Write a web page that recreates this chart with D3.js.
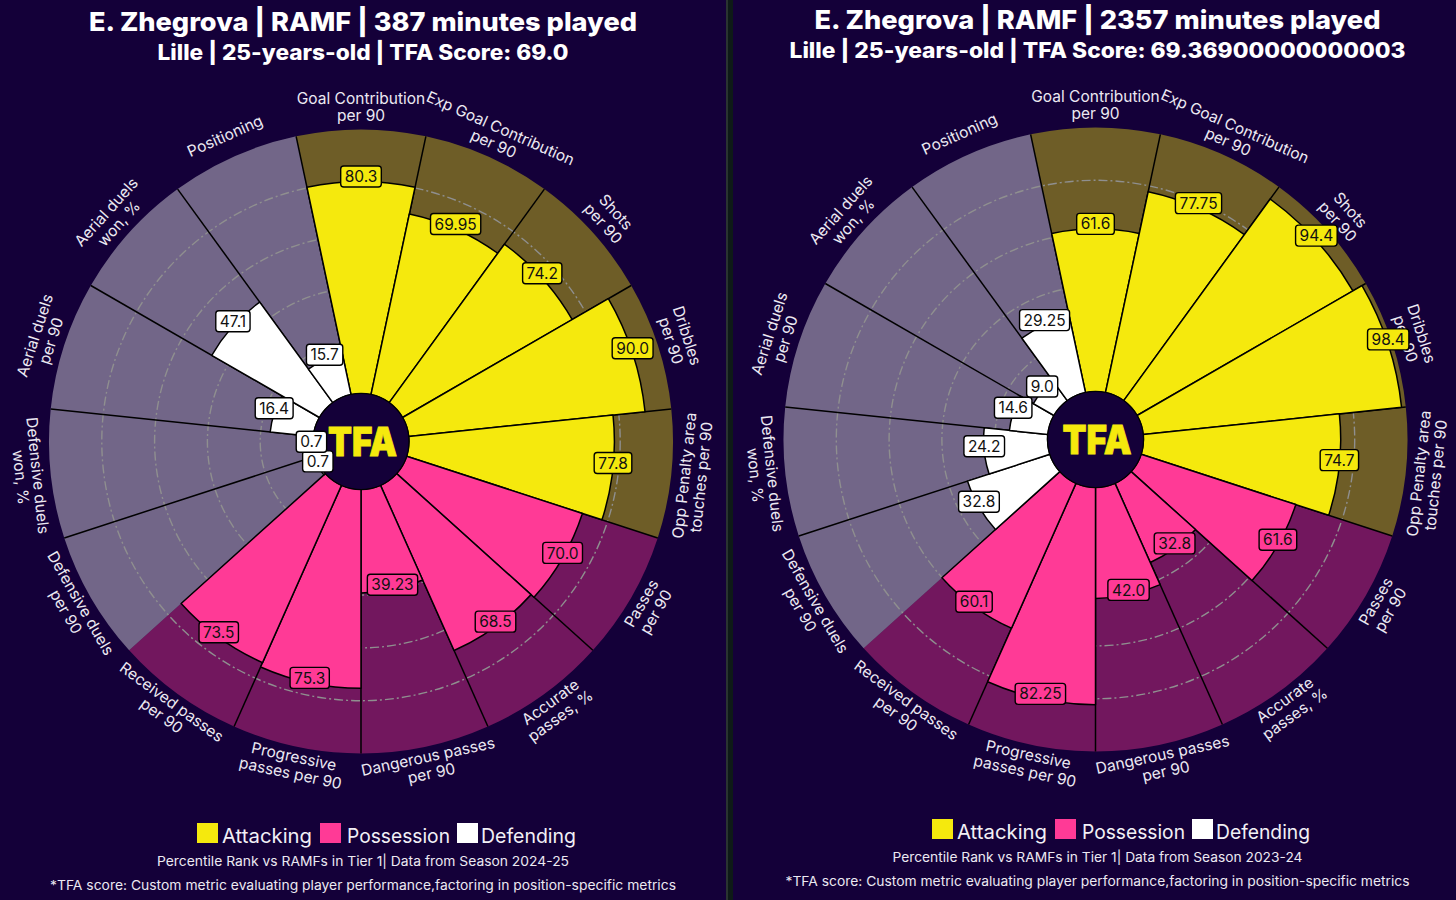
<!DOCTYPE html>
<html><head><meta charset="utf-8">
<script src="https://cdn.jsdelivr.net/npm/d3@7"></script>
<style>html,body{margin:0;padding:0;background:#140039}svg{display:block}text{font-family:Inter,"Open Sans",sans-serif}</style>
</head><body><svg id="c" width="1456" height="900"></svg>
<script>
const categories = ["Goal Contribution\nper 90","Exp Goal Contribution\nper 90","Shots\nper 90","Dribbles\nper 90","Opp Penalty area\ntouches per 90","Passes\nper 90","Accurate\npasses, %","Dangerous passes\nper 90","Progressive\npasses per 90","Received passes\nper 90","Defensive duels\nper 90","Defensive duels\nwon, %","Aerial duels\nper 90","Aerial duels\nwon, %","Positioning"];
const groups = ["Attacking","Attacking","Attacking","Attacking","Attacking","Possession","Possession","Possession","Possession","Possession","Defending","Defending","Defending","Defending","Defending"];
const values2425 = [80.3,69.95,74.2,90.0,77.8,70.0,68.5,39.23,75.3,73.5,0.7,0.7,16.4,47.1,15.7];
const values2324 = [61.6,77.75,94.4,98.4,74.7,61.6,32.8,42.0,82.25,60.1,32.8,24.2,14.6,9.0,29.25];
const labels2425 = ["80.3","69.95","74.2","90.0","77.8","70.0","68.5","39.23","75.3","73.5","0.7","0.7","16.4","47.1","15.7"];
const labels2324 = ["61.6","77.75","94.4","98.4","74.7","61.6","32.8","42.0","82.25","60.1","32.8","24.2","14.6","9.0","29.25"];
const ringTicks = [20,40,60,80];
const legendNames = ["Attacking","Possession","Defending"];
const groupColor = {Attacking:"#f5e90d",Possession:"#ff3a96",Defending:"#ffffff"};
const BG = "#140039";

const svg = d3.select("#c");
svg.append("rect").attr("width",1456).attr("height",900).attr("fill",BG);
svg.append("rect").attr("x",726).attr("width",7).attr("height",900).attr("fill","#0e1a17");
svg.append("rect").attr("x",726).attr("width",2).attr("height",900).attr("fill","#2a3331");

const deg = Math.PI/180;
const angle = d3.scaleBand().domain(categories).range([-12*deg,348*deg]);
const radius = d3.scaleLinear().domain([0,100]).range([48,312]);

function fitText(g,str,x,y,size,weight,len,fill){
  return g.append("text").attr("x",x).attr("y",y).attr("text-anchor","middle")
    .attr("font-size",size).attr("font-weight",weight).attr("fill",fill)
    .attr("textLength",len).attr("lengthAdjust","spacingAndGlyphs").text(str);
}

function panel(cfg){
  const root = svg.append("g");
  const g = root.append("g").attr("transform",`translate(${cfg.cx},${cfg.cy})`);
  const rows = categories.map((c,i)=>({c,i,group:groups[i],v:cfg.values[i],label:cfg.labels[i],
    a0:angle(c),a1:angle(c)+angle.bandwidth(),mid:angle(c)+angle.bandwidth()/2}));
  const arc = d3.arc();
  g.selectAll("path.bg").data(rows).join("path").attr("class","bg")
    .attr("d",d=>arc({innerRadius:radius(0),outerRadius:radius(100),startAngle:d.a0,endAngle:d.a1}))
    .attr("fill",d=>groupColor[d.group]).attr("fill-opacity",0.4);
  g.selectAll("circle.ring").data(ringTicks).join("circle").attr("class","ring")
    .attr("r",d=>radius(d)).attr("fill","none").attr("stroke","#8f8f8f")
    .attr("stroke-width",1.4).attr("stroke-dasharray","9 3 2 3");
  const seps = rows.filter(d=>!(d.group==="Defending"&&groups[d.i-1]==="Possession"));
  g.selectAll("line.sep").data(seps).join("line").attr("class","sep")
    .attr("x1",d=>radius(0)*Math.sin(d.a0)).attr("y1",d=>-radius(0)*Math.cos(d.a0))
    .attr("x2",d=>radius(100)*Math.sin(d.a0)).attr("y2",d=>-radius(100)*Math.cos(d.a0))
    .attr("stroke","#000").attr("stroke-width",1.5);
  g.selectAll("path.bar").data(rows).join("path").attr("class","bar")
    .attr("d",d=>arc({innerRadius:radius(0),outerRadius:radius(d.v),startAngle:d.a0,endAngle:d.a1}))
    .attr("fill",d=>groupColor[d.group]).attr("stroke","#000").attr("stroke-width",1.5).attr("stroke-linejoin","round");
  g.append("circle").attr("r",radius(0)).attr("fill",BG).attr("stroke","#000").attr("stroke-width",1.2);
  g.append("text").attr("x",1.5).attr("y",14.5).attr("text-anchor","middle").attr("font-size",40)
    .attr("font-weight",900).attr("fill","#f5e90d").attr("stroke","#f5e90d").attr("stroke-width",0.8)
    .attr("textLength",69).attr("lengthAdjust","spacingAndGlyphs").text("TFA");
  const catR = d=>{const c=Math.cos(d.mid);return c>-0.2?334:(c>-0.6?332.5:331);};
  const cats = g.selectAll("g.cat").data(rows).join("g").attr("class","cat")
    .attr("transform",d=>{
      const a = d.mid/deg; const n = (a+360)%360;
      const rot = (n<=90||n>=270)?a:a-180;
      return `translate(${catR(d)*Math.sin(d.mid)},${-catR(d)*Math.cos(d.mid)}) rotate(${rot})`;
    });
  cats.each(function(d){
    const lines = d.c.split("\n"); const sel = d3.select(this);
    lines.forEach((t,k)=>{
      sel.append("text").attr("x",0).attr("y",(k-(lines.length-1)/2)*17+5)
        .attr("text-anchor","middle").attr("font-size",15.5).attr("fill","#ece9f2").text(t);
    });
  });
  const vl = g.selectAll("g.val").data(rows).join("g").attr("class","val")
    .attr("transform",d=>`translate(${radius(d.v)*Math.sin(d.mid)},${-radius(d.v)*Math.cos(d.mid)-5})`);
  vl.each(function(d){
    const sel = d3.select(this);
    const box = sel.append("rect");
    const t = sel.append("text").attr("x",0).attr("y",5.6).attr("text-anchor","middle")
      .attr("font-size",15.5).attr("fill","#111").text(d.label);
    const w = t.node().getComputedTextLength()+8;
    box.attr("x",-w/2).attr("y",-10.5).attr("width",w).attr("height",21).attr("rx",3)
      .attr("fill",groupColor[d.group]).attr("stroke","#000").attr("stroke-width",1.4);
  });
  fitText(root,cfg.title,cfg.tx,cfg.titleY,26,800,cfg.titleW,"#fff");
  fitText(root,cfg.sub,cfg.tx,cfg.subY,21,800,cfg.subW,"#fff");
  fitText(root,cfg.note,cfg.tx,cfg.noteY,13,400,cfg.noteW,"#ece9f2");
  fitText(root,"*TFA score: Custom metric evaluating player performance,factoring in position-specific metrics",cfg.tx,cfg.note2Y,13,400,cfg.note2W,"#ece9f2");
  legendNames.forEach((n,i)=>{
    root.append("rect").attr("x",cfg.legX[i]).attr("y",cfg.legY).attr("width",21).attr("height",20)
      .attr("fill",groupColor[n]);
    root.append("text").attr("x",cfg.legTx[i]).attr("y",cfg.legY+19.5).attr("font-size",20).attr("fill","#f2f0f6")
      .attr("textLength",cfg.legW[i]).attr("lengthAdjust","spacingAndGlyphs").text(n);
  });
}

panel({cx:361,cy:441.5,values:values2425,labels:labels2425,
  title:"E. Zhegrova | RAMF | 387 minutes played",sub:"Lille | 25-years-old | TFA Score: 69.0",
  note:"Percentile Rank vs RAMFs in Tier 1| Data from Season 2024-25",
  tx:363,titleY:31,titleW:548,subY:60,subW:411,noteY:866,noteW:412,note2Y:890,note2W:626,
  legX:[197,320,457],legY:823,legTx:[222,347,481],legW:[90,103,95]});
panel({cx:1095.5,cy:439.5,values:values2324,labels:labels2324,
  title:"E. Zhegrova | RAMF | 2357 minutes played",sub:"Lille | 25-years-old | TFA Score: 69.36900000000003",
  note:"Percentile Rank vs RAMFs in Tier 1| Data from Season 2023-24",
  tx:1097.5,titleY:29,titleW:566,subY:58,subW:616,noteY:862,noteW:410,note2Y:886,note2W:624,
  legX:[932,1055,1192],legY:819,legTx:[957,1082,1216],legW:[90,103,94]});
</script></body></html>
